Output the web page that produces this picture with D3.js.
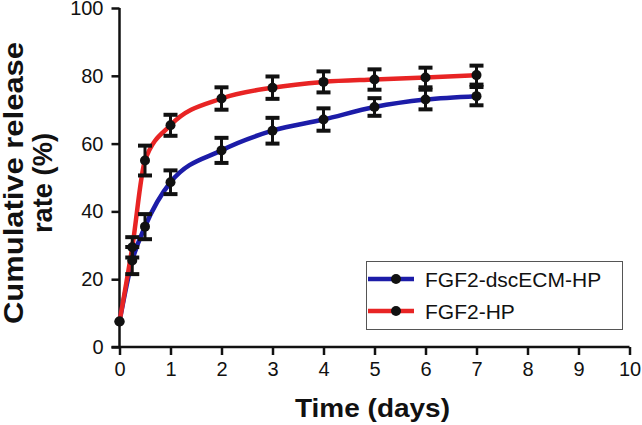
<!DOCTYPE html>
<html>
<head>
<meta charset="utf-8">
<script src="https://cdn.jsdelivr.net/npm/d3@7"></script>
<style>
  body { margin: 0; background: #fff; }
  svg text { font-family: "Liberation Sans", Arial, sans-serif; fill: #111; }
</style>
</head>
<body>
<figure id="chart" style="margin:0"></figure>
<script>
// time points (days)
const days = [0, 0.25, 0.5, 1, 2, 3, 4, 5, 6, 7];
const seriesNames = ["FGF2-dscECM-HP", "FGF2-HP"];
const dscecmValues = [7.5, 25.5, 35.5, 48.6, 58, 63.8, 67.1, 70.8, 73, 74];
const dscecmErrors = [0, 4, 3.7, 3.5, 3.7, 3.8, 3.3, 2.6, 2.9, 2.7];
const hpValues = [7.5, 29.4, 55, 65.4, 73.3, 76.5, 78.2, 78.9, 79.5, 80.2];
const hpErrors = [0, 3, 4.4, 3.1, 3.3, 3.3, 3.1, 3, 2.9, 2.8];
const xTicks = [0, 1, 2, 3, 4, 5, 6, 7, 8, 9, 10];
const yTicks = [0, 20, 40, 60, 80, 100];

const width = 642, height = 425;
const margin = { left: 119.5, right: 12.5, top: 8, bottom: 78 };

const svg = d3.select("#chart").append("svg")
  .attr("width", width)
  .attr("height", height);

const x = d3.scaleLinear().domain([0, 10]).range([margin.left, width - margin.right]);
const y = d3.scaleLinear().domain([0, 100]).range([height - margin.bottom, margin.top]);

const series = [
  { name: seriesNames[0], color: "#1c1ca8", values: dscecmValues, errors: dscecmErrors },
  { name: seriesNames[1], color: "#e82424", values: hpValues, errors: hpErrors }
];

// axes
const xAxis = svg.append("g")
  .attr("transform", `translate(0,${y(0)})`)
  .call(d3.axisBottom(x).tickValues(xTicks).tickSize(8).tickPadding(7).tickFormat(d3.format("d")));
const yAxis = svg.append("g")
  .attr("transform", `translate(${x(0)},0)`)
  .call(d3.axisLeft(y).tickValues(yTicks).tickSize(8).tickPadding(8));

[xAxis, yAxis].forEach(ax => {
  ax.select(".domain").attr("stroke", "#111").attr("stroke-width", 2.5);
  ax.selectAll(".tick line").attr("stroke", "#111").attr("stroke-width", 2.5);
  ax.selectAll(".tick text").style("font-size", "20px").attr("fill", "#111");
});
xAxis.select(".domain").attr("d", `M${x(0) - 8},0H${x(10)}`);
yAxis.select(".domain").attr("d", `M0,${y(0)}V${y(100)}`);

// lines
const line = d3.line()
  .x((d, i) => x(days[i]))
  .y(d => y(d))
  .curve(d3.curveMonotoneX);

series.forEach(s => {
  svg.append("path")
    .datum(s.values)
    .attr("fill", "none")
    .attr("stroke", s.color)
    .attr("stroke-width", 4.5)
    .attr("d", line);
});

// error bars and markers
series.forEach(s => {
  const g = svg.append("g");
  s.values.forEach((v, i) => {
    const e = s.errors[i];
    const cx = x(days[i]);
    if (e > 0) {
      g.append("line")
        .attr("x1", cx).attr("x2", cx)
        .attr("y1", y(v - e)).attr("y2", y(v + e))
        .attr("stroke", "#111").attr("stroke-width", 3);
      [v - e, v + e].forEach(t => {
        g.append("line")
          .attr("x1", cx - 7).attr("x2", cx + 7)
          .attr("y1", y(t)).attr("y2", y(t))
          .attr("stroke", "#111").attr("stroke-width", 4);
      });
    }
    g.append("circle")
      .attr("cx", cx).attr("cy", y(v))
      .attr("r", 5).attr("fill", "#111");
  });
});

// legend
const legend = svg.append("g");
legend.append("rect")
  .attr("x", 366.5).attr("y", 261.5)
  .attr("width", 256).attr("height", 68)
  .attr("fill", "#fff").attr("stroke", "#555").attr("stroke-width", 1);
series.forEach((s, i) => {
  const ly = 279 + i * 32;
  legend.append("line")
    .attr("x1", 368).attr("x2", 414)
    .attr("y1", ly).attr("y2", ly)
    .attr("stroke", s.color).attr("stroke-width", 4.5);
  legend.append("circle")
    .attr("cx", 396).attr("cy", ly).attr("r", 5).attr("fill", "#111");
  legend.append("text")
    .attr("x", 425).attr("y", ly + 7.5)
    .style("font-size", "21px")
    .text(s.name);
});

// axis titles
svg.append("text")
  .attr("x", 372.5).attr("y", 417)
  .attr("text-anchor", "middle")
  .attr("textLength", 155).attr("lengthAdjust", "spacingAndGlyphs")
  .style("font-size", "26px").style("font-weight", "bold")
  .text("Time (days)");

const yTitle = svg.append("text")
  .attr("transform", `translate(0,183) rotate(-90)`)
  .attr("text-anchor", "middle")
  .style("font-size", "28px").style("font-weight", "bold");
yTitle.append("tspan").attr("x", 0).attr("y", 23)
  .attr("textLength", 282).attr("lengthAdjust", "spacingAndGlyphs")
  .text("Cumulative release");
yTitle.append("tspan").attr("x", 0).attr("y", 52)
  .attr("textLength", 100).attr("lengthAdjust", "spacingAndGlyphs")
  .text("rate (%)");
</script>
</body>
</html>
